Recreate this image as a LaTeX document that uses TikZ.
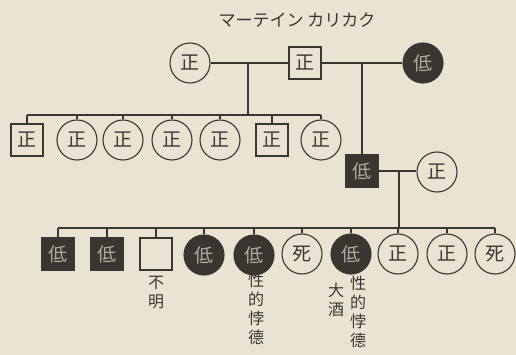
\documentclass[tikz,border=0pt]{standalone}
\usepackage{fontspec}
\newfontfamily\jp{Noto Sans CJK JP}
\definecolor{bg}{HTML}{EAE3D2}
\definecolor{ink}{HTML}{3A3631}
\definecolor{dk}{HTML}{393632}
\definecolor{lt}{HTML}{B0AA9E}
\begin{document}
\begin{tikzpicture}[x=1pt,y=-1pt,
  person/.style={draw=ink, line width=1.1pt, inner sep=0pt, font=\jp\fontsize{19}{19}\selectfont, text=ink},
  fem/.style={person, circle, minimum size=40pt},
  mal/.style={person, rectangle, minimum size=32pt},
  low/.style={fill=dk, text=lt},
  lbl/.style={font=\jp\fontsize{16}{19}\selectfont, text=ink, align=center, anchor=north, inner sep=0pt},
  ln/.style={draw=ink, line width=1.1pt}]
\fill[bg] (0,0) rectangle (516,355);
\useasboundingbox (0,0) rectangle (516,355);
% title
\node[font=\jp\fontsize{17}{17}\selectfont, text=ink] (title) at (297,20) {マーテイン カリカク};
% generation 1
\node[fem] (a) at (190,63) {正};
\node[mal] (b) at (305,63) {正};
\node[fem,low] (c) at (423,63) {低};
\draw[ln] (a.east) -- (b.west);
\draw[ln] (b.east) -- (c.west);
\coordinate (j1) at (248,63);
\coordinate (j1b) at (248,115);
\draw[ln] (j1) -- (j1b);
% generation 2 (left)
\node[mal] (s1) at (27,140) {正};
\node[fem] (c1) at (77,140) {正};
\node[fem] (c2) at (123,140) {正};
\node[fem] (c3) at (172,140) {正};
\node[fem] (c4) at (220,140) {正};
\node[mal] (s2) at (272,140) {正};
\node[fem] (c5) at (321,140) {正};
\coordinate (r2l) at (27,115);
\coordinate (r2r) at (321,115);
\draw[ln] (r2l) -- (r2r);
\foreach \n in {s1,c1,c2,c3,c4,s2,c5}{
  \draw[ln] (\n.north) -- (\n.north |- r2l);
}
% generation 2 (right)
\node[mal,low] (L) at (362,171) {低};
\node[fem] (W) at (437,172) {正};
\coordinate (j2) at (362,63);
\draw[ln] (j2) -- (L.north);
\draw[ln] (L.east) -- (L.east -| W.west);
\coordinate (j3) at (399,171);
\coordinate (j3b) at (399,228);
\draw[ln] (j3) -- (j3b);
% generation 3
\node[mal,low] (k1) at (58,254) {低};
\node[mal,low] (k2) at (107,254) {低};
\node[mal] (k3) at (156,254) {};
\node[fem,low] (k4) at (204,255) {低};
\node[fem,low] (k5) at (254,255) {低};
\node[fem] (k6) at (302,254) {死};
\node[fem,low] (k7) at (351,254) {低};
\node[fem] (k8) at (398,254) {正};
\node[fem] (k9) at (447,254) {正};
\node[fem] (k10) at (495,254) {死};
\coordinate (r3l) at (58,228);
\coordinate (r3r) at (495,228);
\draw[ln] (r3l) -- (r3r);
\foreach \n in {k1,k2,k3,k4,k5,k6,k7,k8,k9,k10}{
  \draw[ln] (\n.north) -- (\n.north |- r3l);
}
% labels
\node[lbl] (l1) at (156,276) {不\\明};
\node[lbl] (l2) at (256,273) {性\\的\\悖\\德};
\node[lbl] (l3) at (336,283) {大\\酒};
\node[lbl] (l4) at (358,276) {性\\的\\悖\\德};
\end{tikzpicture}
\end{document}
